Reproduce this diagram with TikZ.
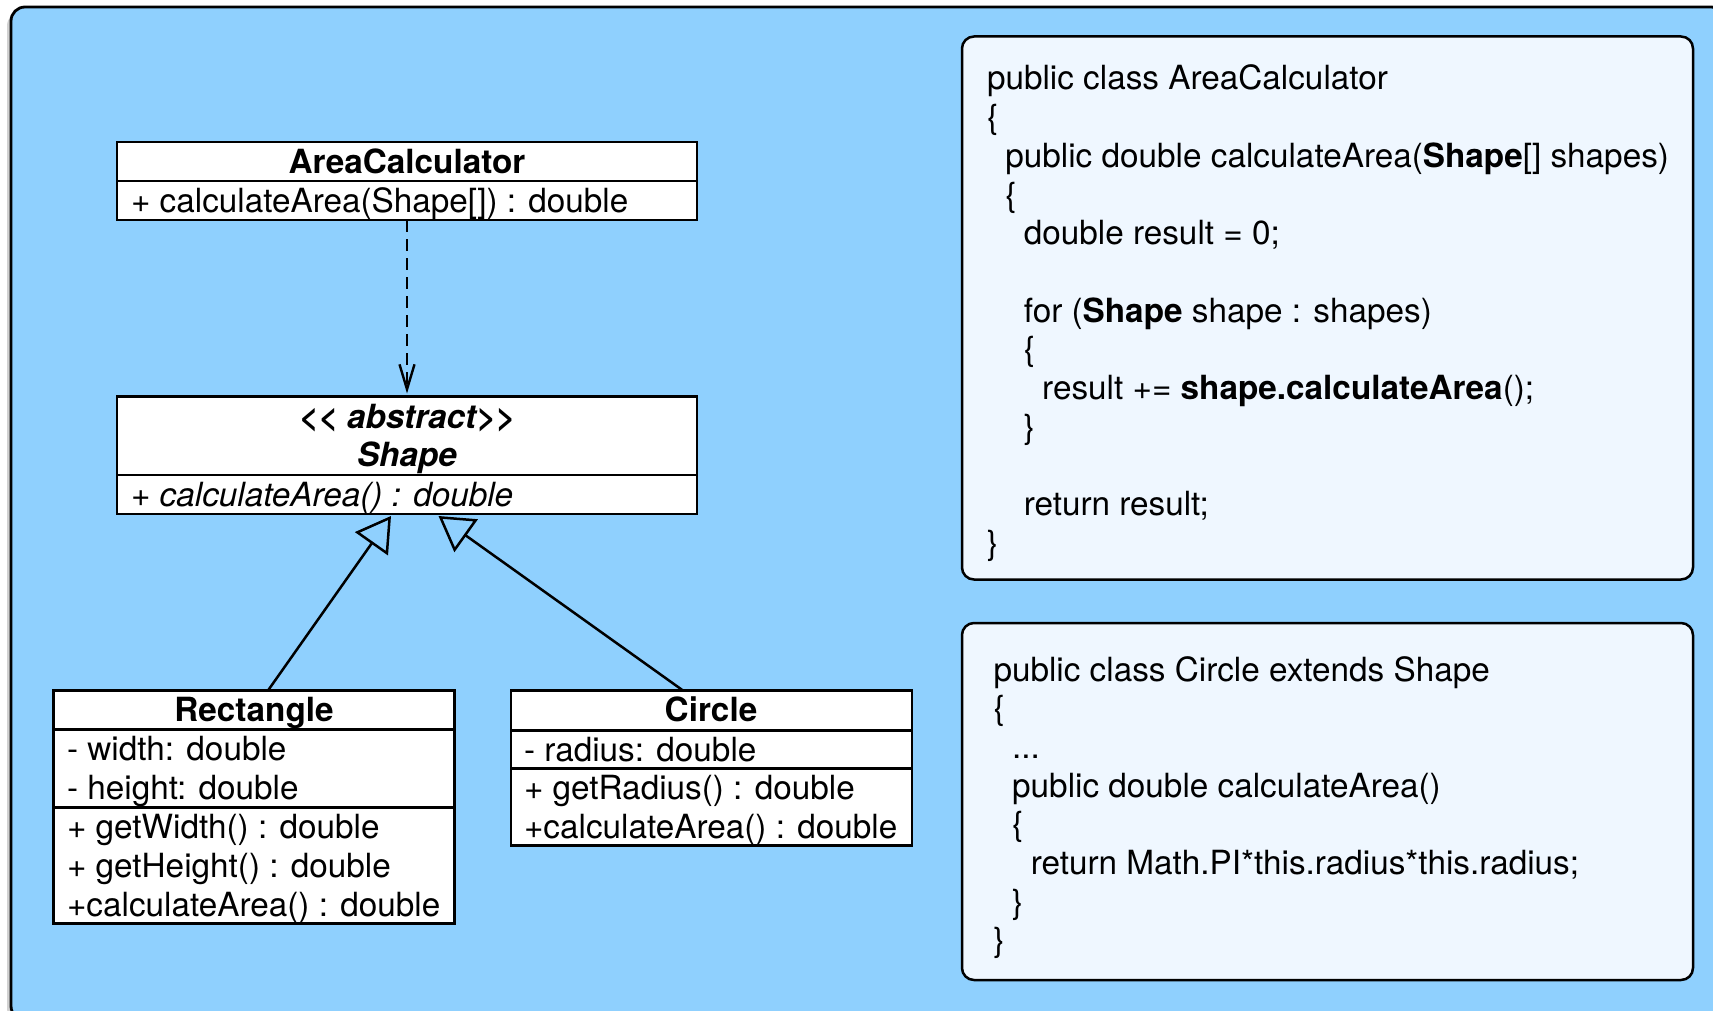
\documentclass[tikz,border=0pt]{standalone}
\usepackage{fontspec}
\setmainfont{TeX Gyre Heros}
\usetikzlibrary{arrows.meta}
\definecolor{bgblue}{RGB}{143,208,254}
\definecolor{codefill}{RGB}{239,247,255}
\begin{document}
\begin{tikzpicture}[x=1pt,y=-1pt,
  txt/.style={font=\fontsize{33.3}{39}\selectfont, inner sep=0pt, outer sep=0pt},
  umlbox/.style={draw, fill=white, line width=2.5pt, anchor=north west, inner sep=0pt, outer sep=0pt},
  codebox/.style={draw, fill=codefill, line width=2.5pt, rounded corners=12pt, anchor=north west, inner sep=0pt, outer sep=0pt},
  divider/.style={line width=2.5pt},
  inherit/.style={line width=2.5pt, -{Triangle[open, length=34pt, width=40pt]}},
  depend/.style={line width=2.4pt, dash pattern=on 12pt off 7pt, -{Straight Barb[length=25pt, width=15pt]}},
  bgframe/.style={draw, fill=bgblue, line width=2.8pt, rounded corners=14pt}
]
\useasboundingbox (0,0) rectangle (1713,1011);
% background frame with subtle shadow
\fill[black, opacity=0.18, rounded corners=14pt] (7,12) rectangle (1722,1022);
\path[bgframe] (11,7) rectangle (1725,1020);

% ---------- UML boxes ----------
\node[umlbox, minimum width=580pt, minimum height=78pt] (ac) at (117,142) {};
\draw[divider] ([yshift=-39pt]ac.north west) -- ([yshift=-39pt]ac.north east);
\node[txt, anchor=base] (acT) at (407,174) {\textbf{AreaCalculator}};
\node[txt, anchor=base west] (acM) at (131,212) {+ calculateArea(Shape[]) : double};

\node[umlbox, minimum width=580pt, minimum height=117.5pt] (sh) at (117,396.5) {};
\draw[divider] ([yshift=-78.5pt]sh.north west) -- ([yshift=-78.5pt]sh.north east);
\node[txt, anchor=base] (shS) at (407,428) {\textbf{\textit{<{}< abstract>{}>}}};
\node[txt, anchor=base] (shT) at (407,466) {\textbf{\textit{Shape}}};
\node[txt, anchor=base west] (shM) at (131,506) {\textit{+ calculateArea() : double}};

\node[umlbox, minimum width=401pt, minimum height=233pt] (re) at (53.5,690.5) {};
\draw[divider] ([yshift=-39pt]re.north west) -- ([yshift=-39pt]re.north east);
\draw[divider] ([yshift=-117pt]re.north west) -- ([yshift=-117pt]re.north east);
\node[txt, anchor=base] (reT) at (254,721.5) {\textbf{Rectangle}};
\node[txt, anchor=base west] (reA1) at (67,760.5) {- width: double};
\node[txt, anchor=base west] (reA2) at (67,799.5) {- height: double};
\node[txt, anchor=base west] (reM1) at (67,838.5) {+ getWidth() : double};
\node[txt, anchor=base west] (reM2) at (67,877) {+ getHeight() : double};
\node[txt, anchor=base west] (reM3) at (67,916) {+calculateArea() : double};

\node[umlbox, minimum width=401pt, minimum height=155pt] (ci) at (511,690.5) {};
\draw[divider] ([yshift=-40pt]ci.north west) -- ([yshift=-40pt]ci.north east);
\draw[divider] ([yshift=-78pt]ci.north west) -- ([yshift=-78pt]ci.north east);
\node[txt, anchor=base] (ciT) at (711,721.5) {\textbf{Circle}};
\node[txt, anchor=base west] (ciA1) at (524,761) {- radius: double};
\node[txt, anchor=base west] (ciM1) at (524,799.5) {+ getRadius() : double};
\node[txt, anchor=base west] (ciM2) at (524,838) {+calculateArea() : double};

% ---------- connectors ----------
\draw[depend] (ac.south) -- ([yshift=3pt]sh.north);
\draw[inherit] ([xshift=214.5pt]re.north west) -- ([xshift=274pt,yshift=-2pt]sh.south west);
\draw[inherit] ([xshift=172pt]ci.north west) -- ([xshift=321.5pt,yshift=-2pt]sh.south west);

% ---------- code box 1 ----------
\node[codebox, minimum width=731pt, minimum height=543pt] (cb1) at (962,36.5) {};
\node[txt, anchor=base west] (a0) at (987,90) {public class AreaCalculator};
\node[txt, anchor=base west] (a1) at (987,128.7) {\{};
\node[txt, anchor=base west] (a2) at (1005.4,167.4) {public double calculateArea(\textbf{Shape}[] shapes)};
\node[txt, anchor=base west] (a3) at (1005.4,206.1) {\{};
\node[txt, anchor=base west] (a4) at (1023.8,244.8) {double result = 0;};
\node[txt, anchor=base west] (a6) at (1023.8,322.2) {for (\textbf{Shape} shape : shapes)};
\node[txt, anchor=base west] (a7) at (1023.8,360.9) {\{};
\node[txt, anchor=base west] (a8) at (1042.2,399.6) {result += \textbf{shape.calculateArea}();};
\node[txt, anchor=base west] (a9) at (1023.8,438.3) {\}};
\node[txt, anchor=base west] (a11) at (1023.8,515.7) {return result;};
\node[txt, anchor=base west] (a12) at (987,554.4) {\}};

% ---------- code box 2 ----------
\node[codebox, minimum width=731pt, minimum height=357pt] (cb2) at (962,623) {};
\node[txt, anchor=base west] (b0) at (993.5,681) {public class Circle extends Shape};
\node[txt, anchor=base west] (b1) at (993.5,719.7) {\{};
\node[txt, anchor=base west] (b2) at (1012.2,758.4) {...};
\node[txt, anchor=base west] (b3) at (1012.2,797.1) {public double calculateArea()};
\node[txt, anchor=base west] (b4) at (1012.2,835.8) {\{};
\node[txt, anchor=base west] (b5) at (1030.9,874.5) {return Math.PI*this.radius*this.radius;};
\node[txt, anchor=base west] (b6) at (1012.2,913.2) {\}};
\node[txt, anchor=base west] (b7) at (993.5,951.9) {\}};
\end{tikzpicture}
\end{document}
